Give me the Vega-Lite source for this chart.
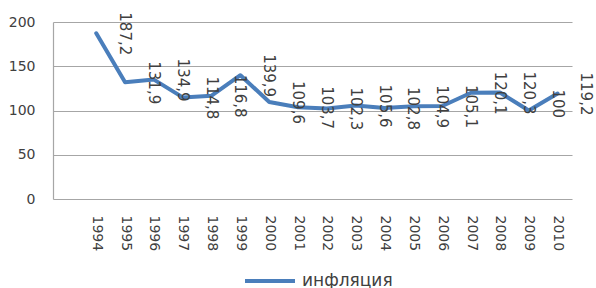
{
  "$schema": "https://vega.github.io/schema/vega-lite/v6.json",
  "width": 519,
  "height": 177,
  "autosize": {"type": "none"},
  "padding": {"left": 53, "top": 22, "right": 24, "bottom": 89},
  "background": "white",
  "data": {
    "values": [
      {"year": 1994, "value": 187.2},
      {"year": 1995, "value": 131.9},
      {"year": 1996, "value": 134.9},
      {"year": 1997, "value": 114.8},
      {"year": 1998, "value": 116.8},
      {"year": 1999, "value": 139.9},
      {"year": 2000, "value": 109.6},
      {"year": 2001, "value": 103.7},
      {"year": 2002, "value": 102.3},
      {"year": 2003, "value": 105.6},
      {"year": 2004, "value": 102.8},
      {"year": 2005, "value": 104.9},
      {"year": 2006, "value": 105.1},
      {"year": 2007, "value": 120.1},
      {"year": 2008, "value": 120.3},
      {"year": 2009, "value": 100},
      {"year": 2010, "value": 119.2}
    ]
  },
  "transform": [
    {"calculate": "replace(toString(datum.value), '.', ',')", "as": "label"}
  ],
  "encoding": {
    "x": {
      "field": "year",
      "type": "quantitative",
      "scale": {"domain": [1992.5, 2010.5], "nice": false, "zero": false},
      "axis": {
        "values": [1994, 1995, 1996, 1997, 1998, 1999, 2000, 2001, 2002, 2003, 2004, 2005, 2006, 2007, 2008, 2009, 2010],
        "format": "d",
        "labelAngle": 90,
        "labelAlign": "left",
        "labelBaseline": "middle",
        "grid": false,
        "ticks": false,
        "domain": false,
        "labelPadding": 16,
        "labelFlush": false,
        "labelOverlap": false,
        "labelBound": false,
        "title": null
      }
    },
    "y": {
      "field": "value",
      "type": "quantitative",
      "scale": {"domain": [0, 200], "nice": false},
      "axis": {
        "values": [0, 50, 100, 150, 200],
        "grid": true,
        "ticks": false,
        "domain": true,
        "labelPadding": 18,
        "title": null
      }
    }
  },
  "layer": [
    {
      "mark": {"type": "line", "strokeWidth": 4, "strokeCap": "round", "strokeJoin": "round"},
      "encoding": {
        "color": {
          "datum": "инфляция",
          "scale": {"range": ["#4a7ebb"]},
          "legend": {
            "orient": "none",
            "legendX": 190,
            "legendY": 232,
            "padding": 0,
            "title": null,
            "symbolType": "stroke",
            "symbolSize": 2500,
            "symbolStrokeWidth": 4,
            "labelFontSize": 17,
            "labelFont": "DejaVu Sans",
            "labelColor": "#404040",
            "labelOffset": 5
          }
        }
      }
    },
    {
      "mark": {
        "type": "text",
        "angle": 90,
        "align": "left",
        "baseline": "middle",
        "dx": -21,
        "dy": -28.83,
        "fontSize": 15,
        "font": "DejaVu Sans",
        "color": "#404040"
      },
      "encoding": {
        "text": {"field": "label"}
      }
    }
  ],
  "config": {
    "view": {"stroke": null},
    "axis": {
      "labelFont": "DejaVu Sans",
      "labelFontSize": 14,
      "labelColor": "#404040",
      "gridColor": "#a6a6a6",
      "gridWidth": 1.2,
      "gridOpacity": 1,
      "domainColor": "#a6a6a6",
      "domainWidth": 1.2
    }
  }
}
